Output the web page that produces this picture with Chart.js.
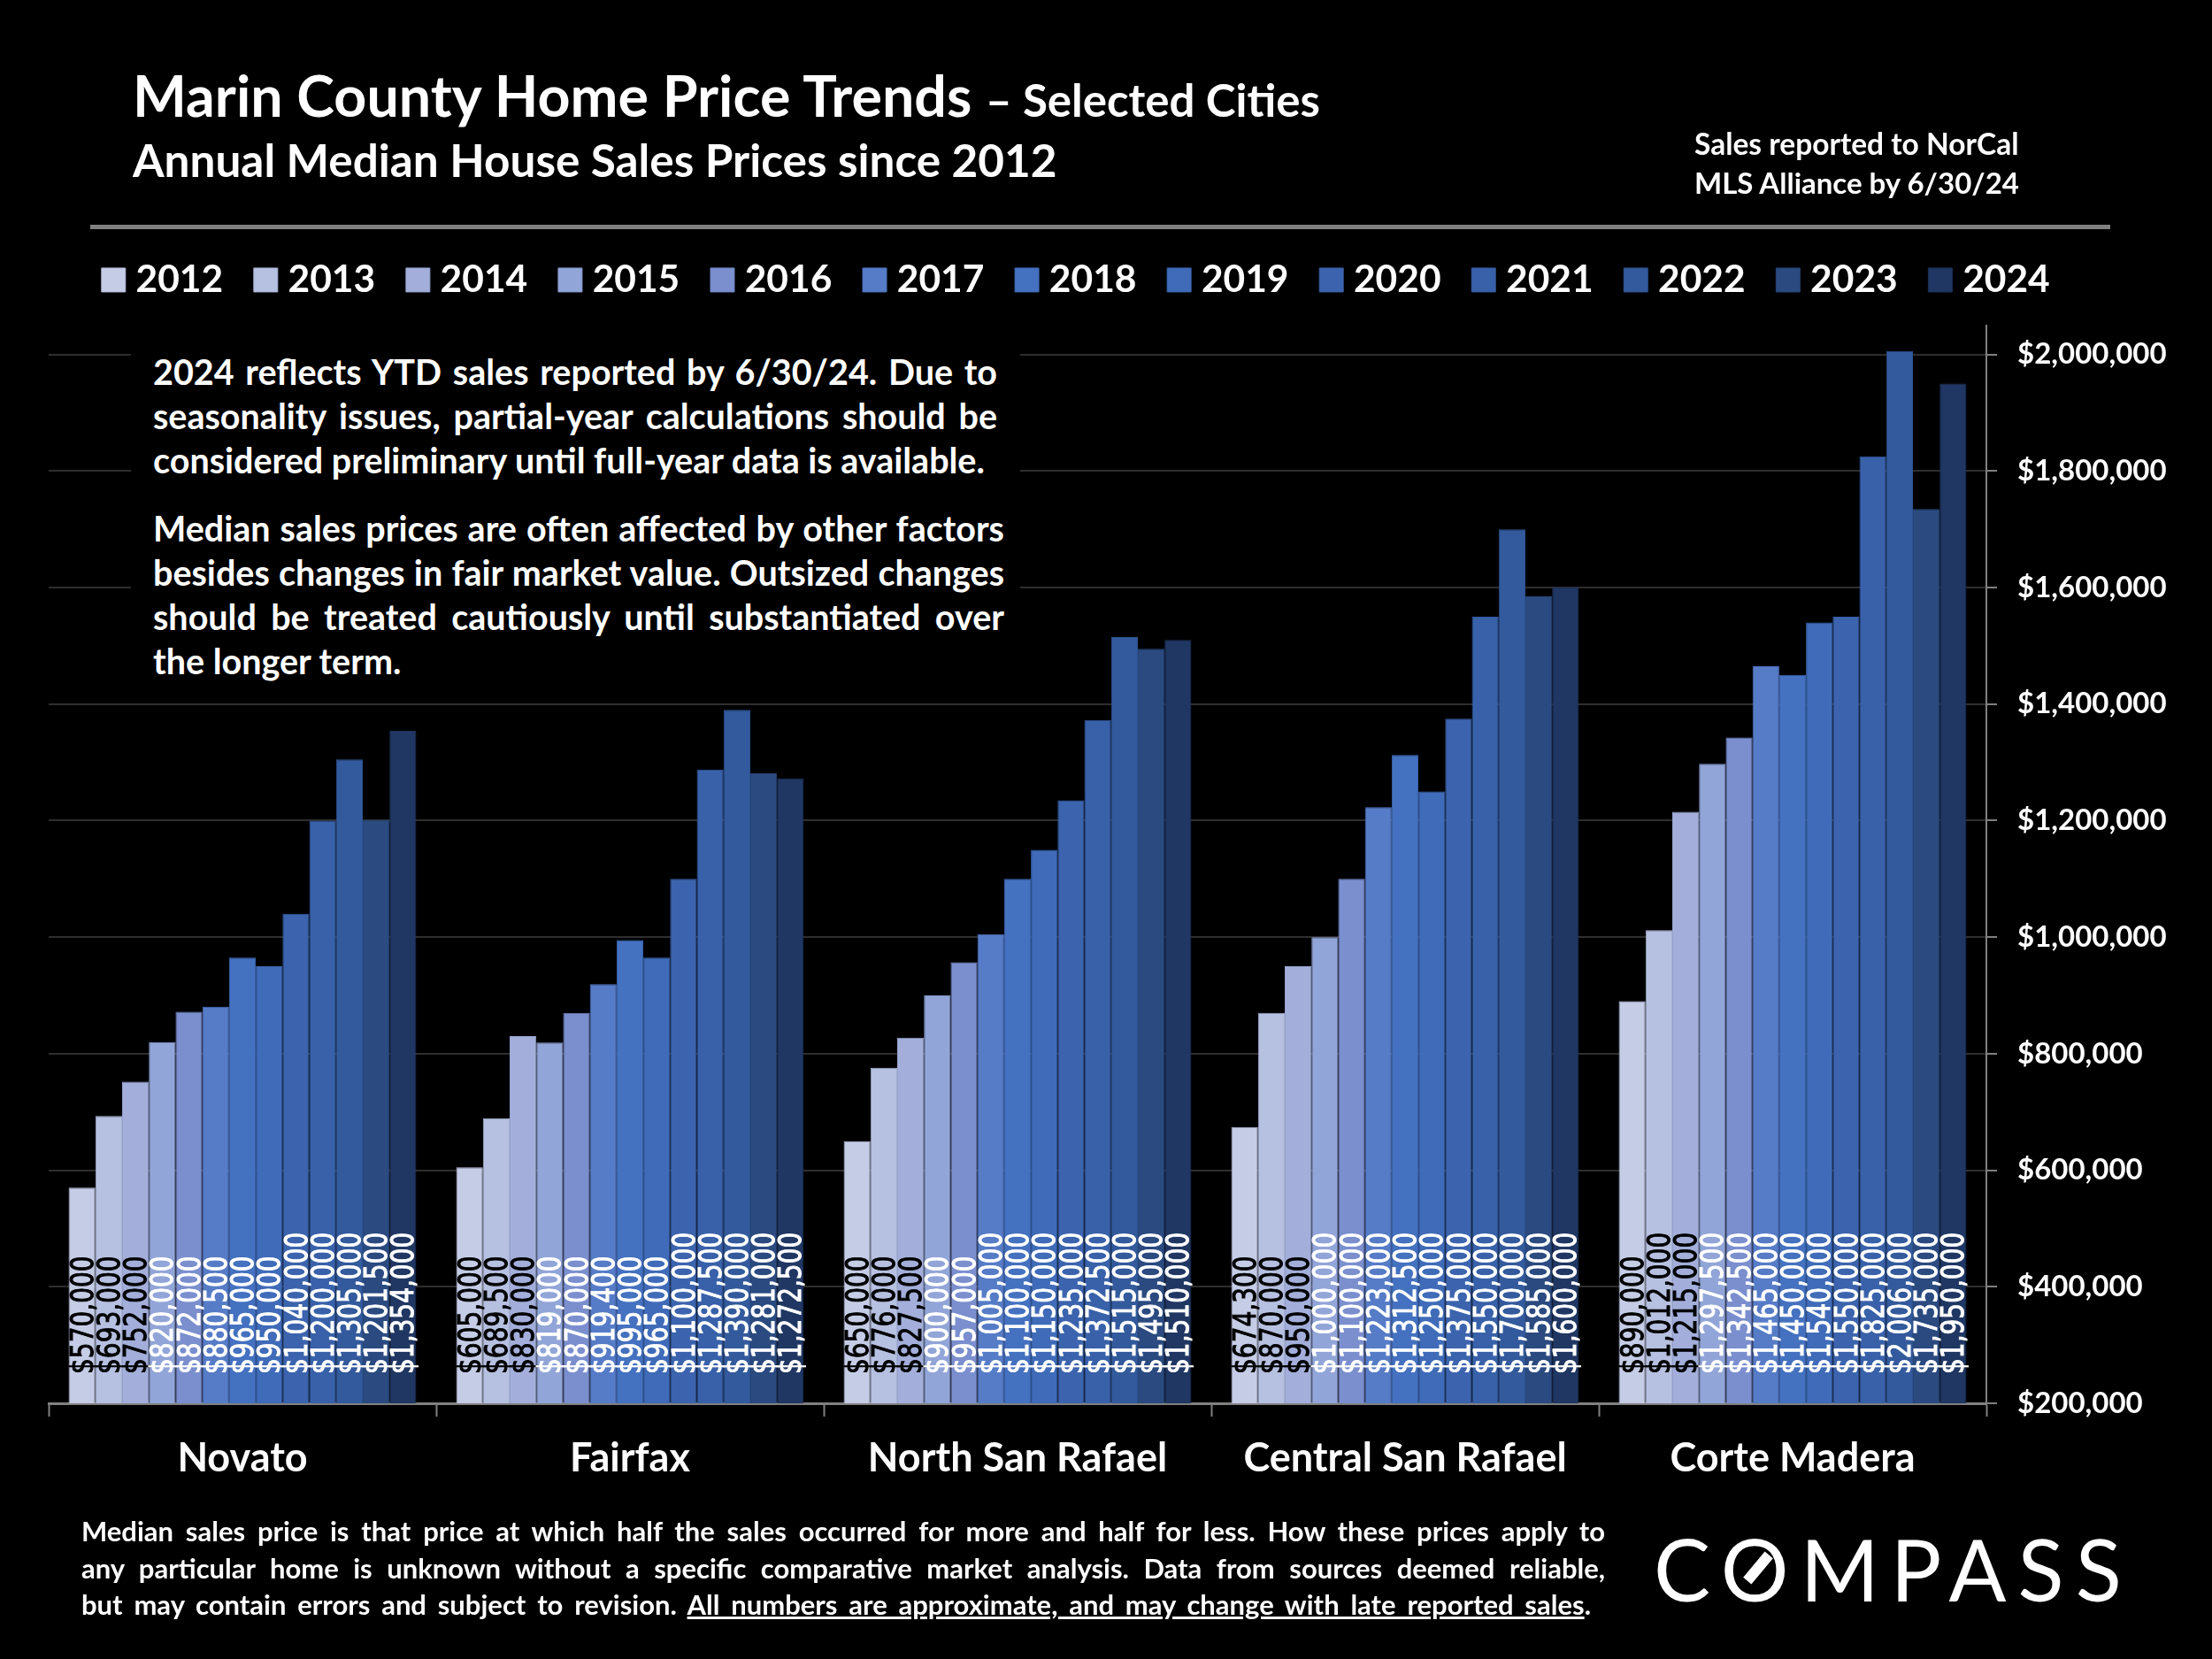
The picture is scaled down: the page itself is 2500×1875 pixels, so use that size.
<!DOCTYPE html>
<html>
<head>
<meta charset="utf-8">
<title>Marin County Home Price Trends</title>
<script src="https://cdn.jsdelivr.net/npm/chart.js@4"></script>
<style>
  html, body { margin: 0; padding: 0; background: #000; }
  #wrap { position: relative; width: 2500px; height: 1875px; overflow: hidden; font-family: Lato, sans-serif; font-weight: 700; color: #fff; }
  canvas { position: absolute; left: 0; top: 0; }
  .t { position: absolute; white-space: nowrap; line-height: 1; }
  .j { text-align: justify; text-align-last: justify; }
  #rule { position: absolute; left: 102px; top: 254px; width: 2283px; height: 5px; background: #808080; }
  #notebox { position: absolute; left: 148px; top: 385px; width: 1005px; height: 395px; background: #000; }
  #logo { position: absolute; left: 1869px; top: 1725px; font-size: 96px; font-weight: 400; letter-spacing: 13px; line-height: 1; }
  #slash { position: absolute; left: 1968px; top: 1766px; width: 38px; height: 12px; background: #fff; transform: rotate(-50deg); }
</style>
</head>
<body>
<div id="wrap">
  <canvas id="chart" width="2500" height="1875"></canvas>

  <div class="t" style="left:150px;top:75px;font-size:64.5px">Marin County Home Price Trends <span style="font-size:51px">– Selected Cities</span></div>
  <div class="t" style="left:150px;top:155px;font-size:51.3px">Annual Median House Sales Prices since 2012</div>
  <div class="t" style="left:1915px;top:146px;font-size:33.5px">Sales reported to NorCal</div>
  <div class="t" style="left:1915px;top:190px;font-size:33px">MLS Alliance by 6/30/24</div>
  <div id="rule"></div>

  <div id="notebox"></div>
  <div class="t j" style="left:173px;top:400px;width:954px;font-size:39.5px">2024 reflects YTD sales reported by 6/30/24. Due to</div>
  <div class="t j" style="left:173px;top:450px;width:954px;font-size:39.5px">seasonality issues, partial-year calculations should be</div>
  <div class="t" style="left:173px;top:500px;font-size:39.5px">considered preliminary until full-year data is available.</div>
  <div class="t j" style="left:173px;top:577px;width:962px;font-size:39.5px">Median sales prices are often affected by other factors</div>
  <div class="t j" style="left:173px;top:627px;width:962px;font-size:39.5px">besides changes in fair market value. Outsized changes</div>
  <div class="t j" style="left:173px;top:677px;width:962px;font-size:39.5px">should be treated cautiously until substantiated over</div>
  <div class="t" style="left:173px;top:727px;font-size:39.5px">the longer term.</div>

  <div class="t j" style="left:92px;top:1715px;width:1722px;font-size:31px">Median sales price is that price at which half the sales occurred for more and half for less. How these prices apply to</div>
  <div class="t j" style="left:92px;top:1757px;width:1722px;font-size:31px">any particular home is unknown without a specific comparative market analysis. Data from sources deemed reliable,</div>
  <div class="t j" style="left:92px;top:1798px;width:1706px;font-size:31px">but may contain errors and subject to revision. <u>All numbers are approximate, and may change with late reported sales</u>.</div>

  <div id="logo">COMPASS</div>
  <div id="slash"></div>
</div>

<script>
const cities = ["Novato", "Fairfax", "North San Rafael", "Central San Rafael", "Corte Madera"];
const years = ["2012", "2013", "2014", "2015", "2016", "2017", "2018", "2019", "2020", "2021", "2022", "2023", "2024"];

// one list per city, 2012 through 2024
const novato = [570000, 693000, 752000, 820000, 872000, 880500, 965000, 950000, 1040000, 1200000, 1305000, 1201500, 1354000];
const fairfax = [605000, 689500, 830000, 819000, 870000, 919400, 995000, 965000, 1100000, 1287500, 1390000, 1281000, 1272500];
const northSanRafael = [650000, 776000, 827500, 900000, 957000, 1005000, 1100000, 1150000, 1235000, 1372500, 1515000, 1495000, 1510000];
const centralSanRafael = [674300, 870000, 950000, 1000000, 1100000, 1223000, 1312500, 1250000, 1375000, 1550000, 1700000, 1585000, 1600000];
const corteMadera = [890000, 1012000, 1215000, 1297500, 1342500, 1465000, 1450000, 1540000, 1550000, 1825000, 2006000, 1735000, 1950000];

const yTicks = [200000, 400000, 600000, 800000, 1000000, 1200000, 1400000, 1600000, 1800000, 2000000];

const barColors = ["#C5CCE6", "#B6C0E0", "#A3AFDA", "#92A5D8", "#7B8FCF", "#567CC8", "#4471C0", "#3F6BB9", "#3C64AE", "#3861AA", "#335A9C", "#2A4A80", "#203763"];
const edgeColors = ["#B4BBD6", "#A6B0D1", "#95A1CC", "#8597C9", "#7084C2", "#4F72BC", "#3F69B4", "#3A64AE", "#375DA3", "#345A9F", "#2F5492", "#274577", "#1D325A"];
const labelColors = ["#000", "#000", "#000", "#fff", "#fff", "#fff", "#fff", "#fff", "#fff", "#fff", "#fff", "#fff", "#fff"];

const byCity = [novato, fairfax, northSanRafael, centralSanRafael, corteMadera];
const money = v => "$" + v.toLocaleString("en-US");

// the rotated price labels that sit at the foot of each bar
const barLabels = {
  id: "barLabels",
  afterDatasetsDraw(chart) {
    const ctx = chart.ctx;
    chart.data.datasets.forEach((ds, i) => {
      chart.getDatasetMeta(i).data.forEach((bar, j) => {
        ctx.save();
        ctx.translate(bar.x + 3, chart.chartArea.bottom - 33);
        ctx.rotate(-Math.PI / 2);
        ctx.scale(1, 1.25);
        ctx.font = "28px 'DejaVu Sans'";
        ctx.fillStyle = labelColors[i];
        ctx.strokeStyle = labelColors[i];
        ctx.lineWidth = 0.8;
        ctx.textAlign = "left";
        ctx.textBaseline = "middle";
        ctx.fillText(money(ds.data[j]), 0, 0);
        ctx.strokeText(money(ds.data[j]), 0, 0);
        ctx.restore();
      });
    });
  }
};

// legend sits in a fixed spot above the plot
const placeLegend = {
  id: "placeLegend",
  afterLayout(chart) {
    const lg = chart.legend;
    lg.left -= 57;
    lg.right -= 57;
    lg.top = 251;
  }
};

new Chart(document.getElementById("chart").getContext("2d"), {
  type: "bar",
  data: {
    labels: cities,
    datasets: years.map((y, i) => ({
      label: y,
      data: byCity.map(c => c[i]),
      backgroundColor: barColors[i],
      borderColor: edgeColors[i],
      borderWidth: 1,
      barPercentage: 1,
      categoryPercentage: 0.897
    }))
  },
  options: {
    responsive: false,
    animation: false,
    layout: { padding: { left: 55, right: 0, top: 271, bottom: 0 } },
    plugins: {
      tooltip: { enabled: false },
      legend: {
        position: "top",
        align: "center",
        labels: {
          usePointStyle: true,
          pointStyle: "rect",
          boxWidth: 8,
          boxHeight: 27,
          padding: 44.2,
          color: "#fff",
          font: { family: "Lato", weight: "700", size: 42.5 }
        }
      }
    },
    scales: {
      x: {
        afterFit(scale) { scale.height = 289; },
        grid: { drawOnChartArea: false, drawTicks: true, tickLength: 15, tickColor: "#808080", tickWidth: 2 },
        border: { color: "#808080", width: 3 },
        ticks: { color: "#fff", padding: 20, maxRotation: 0, font: { family: "Lato", weight: "700", size: 45 } }
      },
      y: {
        position: "right",
        min: 200000,
        max: 2050000,
        afterFit(scale) { scale.width = 255; },
        afterBuildTicks(scale) { scale.ticks = yTicks.map(v => ({ value: v })); },
        grid: { color: "#2e2e2e", lineWidth: 2, tickLength: 12, tickColor: "#808080" },
        border: { color: "#808080", width: 2 },
        ticks: { color: "#fff", padding: 23, callback: v => money(v), font: { family: "Lato", weight: "700", size: 33 } }
      }
    }
  },
  plugins: [barLabels, placeLegend]
});
</script>
</body>
</html>
